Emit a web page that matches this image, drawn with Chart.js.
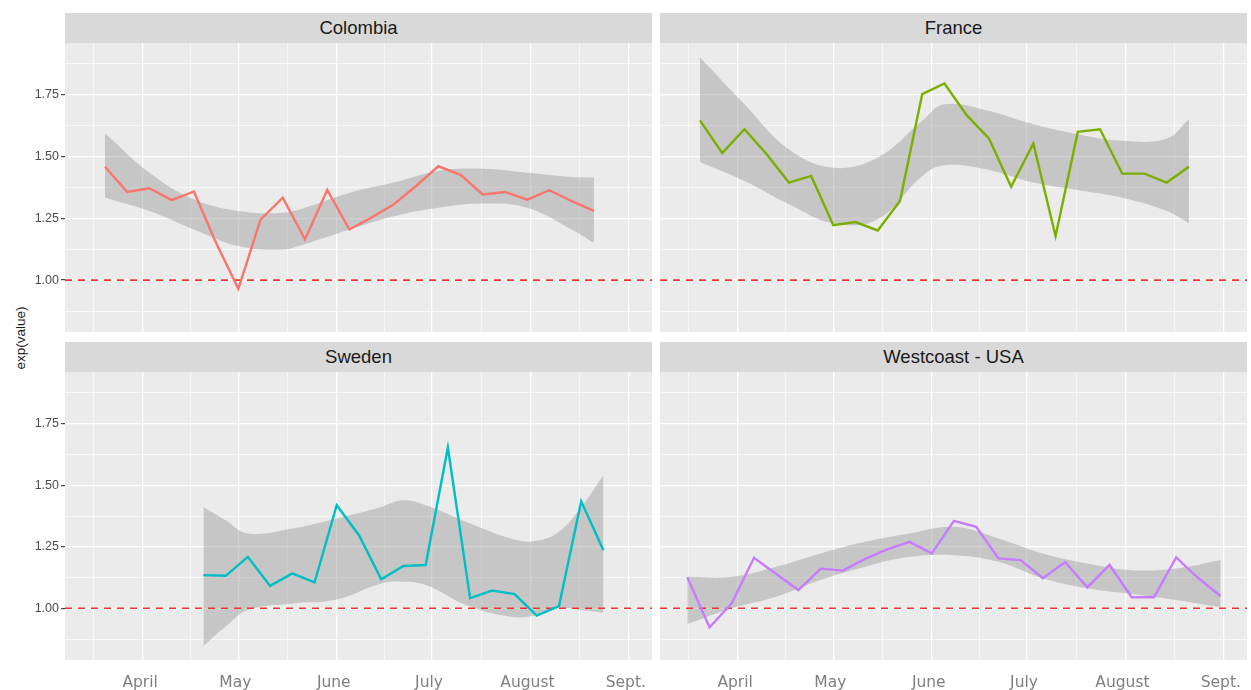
<!DOCTYPE html>
<html lang="en">
<head>
<meta charset="UTF-8">
<title>exp(value) by region</title>
<script src="https://cdn.jsdelivr.net/npm/chart.js@4"></script>
<style>
  body { margin: 0; background: #fff; font-family: "Liberation Sans", Arial, sans-serif; }
  #wrap { position: relative; width: 1251px; height: 690px; overflow: hidden; }
  .strip { position: absolute; height: 30px; line-height: 30px; background: #d9d9d9; color: #1a1a1a; font-size: 18.5px; text-align: center; }
  canvas { position: absolute; }
  #ytitle { position: absolute; left: 20px; top: 338px; transform: translate(-50%, -50%) rotate(-90deg); font-size: 13.5px; color: #1a1a1a; white-space: nowrap; }
</style>
</head>
<body>
<div id="wrap">
  <div class="strip" style="left:65px;top:13px;width:587px">Colombia</div>
  <div class="strip" style="left:660px;top:13px;width:587px">France</div>
  <div class="strip" style="left:65px;top:342px;width:587px">Sweden</div>
  <div class="strip" style="left:660px;top:342px;width:587px">Westcoast - USA</div>
  <div id="ytitle">exp(value)</div>
  <canvas id="colombia" width="652" height="289" style="left:0;top:43px"></canvas>
  <canvas id="france" width="587" height="289" style="left:660px;top:43px"></canvas>
  <canvas id="sweden" width="652" height="318" style="left:0;top:372px"></canvas>
  <canvas id="westcoast" width="587" height="318" style="left:660px;top:372px"></canvas>
</div>
<script>
// x axis = days since 1 April 2020
const monthTicks = [0, 30, 61, 91, 122, 153];
const monthLabels = ['April', 'May', 'June', 'July', 'August', 'Sept.'];
const minorX = [-15.5, 15, 45.5, 76, 106.5, 137.5];
const yMajor = [1.00, 1.25, 1.50, 1.75];
const yMinor = [0.875, 1.125, 1.375, 1.625, 1.875];
const xRange = [-24.6, 160.3];
const yRange = [0.79, 1.96];

// weekly values
const colombiaDates = ['03-20','03-27','04-03','04-10','04-17','04-24','05-01','05-08','05-15','05-22','05-29','06-05','06-12','06-19','06-26','07-03','07-10','07-17','07-24','07-31','08-07','08-14','08-21'];
const colombiaValues = [1.459,1.357,1.372,1.324,1.359,1.15,0.965,1.245,1.334,1.165,1.365,1.205,1.254,1.307,1.381,1.461,1.426,1.347,1.357,1.326,1.364,1.32,1.28];
const franceDates = colombiaDates;
const franceValues = [1.647,1.514,1.611,1.51,1.395,1.422,1.222,1.235,1.201,1.32,1.753,1.796,1.668,1.574,1.378,1.553,1.178,1.60,1.611,1.431,1.431,1.395,1.459];
const swedenDates = ['04-20','04-27','05-04','05-11','05-18','05-25','06-01','06-08','06-15','06-22','06-29','07-06','07-13','07-20','07-27','08-03','08-10','08-17','08-24'];
const swedenValues = [1.135,1.132,1.209,1.091,1.142,1.105,1.419,1.297,1.118,1.172,1.176,1.653,1.041,1.072,1.058,0.970,1.009,1.435,1.236];
const westDates = ['03-16','03-23','03-30','04-06','04-13','04-20','04-27','05-04','05-11','05-18','05-25','06-01','06-08','06-15','06-22','06-29','07-06','07-13','07-20','07-27','08-03','08-10','08-17','08-24','08-31'];
const westValues = [1.126,0.923,1.02,1.205,1.139,1.074,1.161,1.153,1.201,1.239,1.27,1.223,1.355,1.331,1.203,1.196,1.122,1.188,1.085,1.176,1.045,1.045,1.207,1.122,1.05];

// smoother confidence band (upper / lower)
const colombiaBandDates = ['03-20','04-03','04-17','05-01','05-15','05-22','06-05','06-19','07-03','07-17','07-31','08-14','08-21'];
const colombiaHigh = [1.595,1.435,1.327,1.280,1.273,1.293,1.354,1.395,1.442,1.451,1.435,1.418,1.415];
const colombiaLow  = [1.334,1.280,1.205,1.138,1.124,1.146,1.205,1.259,1.293,1.310,1.293,1.205,1.151];
const franceBandDates = ['03-20','04-03','04-17','05-01','05-15','05-29','06-05','06-19','07-03','07-17','07-31','08-14','08-21'];
const franceHigh = [1.901,1.712,1.530,1.455,1.496,1.645,1.712,1.685,1.631,1.591,1.564,1.573,1.651];
const franceLow  = [1.478,1.401,1.307,1.230,1.246,1.422,1.465,1.446,1.395,1.365,1.334,1.280,1.230];
const swedenBandDates = ['04-20','04-27','05-04','05-18','06-01','06-15','06-22','06-29','07-13','07-27','08-03','08-10','08-17','08-24'];
const swedenHigh = [1.412,1.358,1.304,1.324,1.365,1.412,1.439,1.419,1.345,1.280,1.274,1.311,1.412,1.541];
const swedenLow  = [0.847,0.926,0.993,1.020,1.036,1.101,1.108,1.095,1.007,0.964,0.973,1.000,0.993,0.982];
const westBandDates = ['03-16','03-30','04-13','04-27','05-11','05-25','06-08','06-22','07-06','07-20','08-03','08-17','08-31'];
const westHigh = [1.128,1.128,1.169,1.223,1.270,1.304,1.331,1.284,1.223,1.182,1.155,1.162,1.196];
const westLow  = [0.936,1.000,1.047,1.115,1.169,1.209,1.216,1.189,1.122,1.081,1.058,1.034,1.004];

const day = md => (Date.UTC(2020, +md.slice(0, 2) - 1, +md.slice(3)) - Date.UTC(2020, 3, 1)) / 864e5;
const pts = (dates, vals) => dates.map((d, i) => ({ x: day(d), y: vals[i] }));

const panelBg = {
  id: 'panelBg',
  beforeDraw(chart) {
    const { ctx, chartArea: a } = chart;
    ctx.save();
    ctx.fillStyle = '#ebebeb';
    ctx.fillRect(a.left, a.top, a.right - a.left, a.bottom - a.top);
    ctx.restore();
  }
};

const noPad = s => { s.paddingLeft = s.paddingRight = s.paddingTop = s.paddingBottom = 0; };

function panel(id, color, dates, values, bandDates, high, low, showY, showX) {
  const xs = monthTicks.concat(minorX).sort((a, b) => a - b);
  const ys = yMajor.concat(yMinor).sort((a, b) => a - b);
  new Chart(document.getElementById(id), {
    type: 'line',
    data: {
      datasets: [
        { data: pts(dates, values), borderColor: color, borderWidth: 2.4, pointRadius: 0, fill: false, order: 0 },
        { data: [{ x: xRange[0], y: 1 }, { x: xRange[1], y: 1 }], borderColor: '#ee3333', borderWidth: 1.6,
          borderDash: [7, 6], pointRadius: 0, fill: false, order: 1 },
        { data: pts(bandDates, high), borderColor: 'transparent', borderWidth: 0, pointRadius: 0,
          tension: 0.4, fill: false, order: 2 },
        { data: pts(bandDates, low), borderColor: 'transparent', borderWidth: 0, pointRadius: 0,
          tension: 0.4, fill: '-1', backgroundColor: 'rgba(153,153,153,0.45)', order: 3 }
      ]
    },
    options: {
      responsive: false,
      animation: false,
      events: [],
      layout: { padding: 0 },
      plugins: { legend: { display: false }, tooltip: { enabled: false } },
      scales: {
        x: {
          type: 'linear', min: xRange[0], max: xRange[1],
          afterBuildTicks: s => { s.ticks = xs.map(v => ({ value: v })); },
          afterFit: s => { s.height = showX ? 30 : 0; noPad(s); },
          border: { display: false },
          grid: { color: '#ffffff', drawTicks: false,
                  lineWidth: c => monthTicks.includes(c.tick && c.tick.value) ? 1.3 : 0.6 },
          ticks: { display: showX, autoSkip: false, maxRotation: 0, padding: 14, labelOffset: -3,
                   color: '#7f7f7f', font: { family: 'DejaVu Sans', size: 15.5 },
                   callback: v => { const i = monthTicks.indexOf(v); return i < 0 ? '' : monthLabels[i]; } }
        },
        y: {
          min: yRange[0], max: yRange[1],
          afterBuildTicks: s => { s.ticks = ys.map(v => ({ value: v })); },
          afterFit: s => { s.width = showY ? 65 : 0; noPad(s); },
          border: { display: false },
          grid: { color: '#ffffff', drawTicks: showY, tickLength: 4, tickWidth: 1.1,
                  tickColor: c => yMajor.includes(c.tick && c.tick.value) ? '#333333' : 'rgba(0,0,0,0)',
                  lineWidth: c => yMajor.includes(c.tick && c.tick.value) ? 1.3 : 0.6 },
          ticks: { display: showY, autoSkip: false, padding: 2, color: '#4d4d4d',
                   font: { family: 'Liberation Sans', size: 12.5 },
                   callback: v => yMajor.includes(v) ? v.toFixed(2) : '' }
        }
      }
    },
    plugins: [panelBg]
  });
}

panel('colombia', '#f8766d', colombiaDates, colombiaValues, colombiaBandDates, colombiaHigh, colombiaLow, true, false);
panel('france', '#7cae00', franceDates, franceValues, franceBandDates, franceHigh, franceLow, false, false);
panel('sweden', '#00bfc4', swedenDates, swedenValues, swedenBandDates, swedenHigh, swedenLow, true, true);
panel('westcoast', '#c77cff', westDates, westValues, westBandDates, westHigh, westLow, false, true);
</script>
</body>
</html>
